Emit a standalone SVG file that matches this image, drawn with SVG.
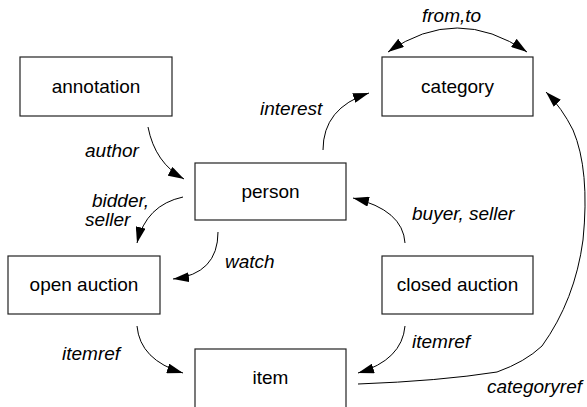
<svg xmlns="http://www.w3.org/2000/svg" width="587" height="407" viewBox="0 0 587 407">
<style>
.box{fill:#fff;stroke:#222;stroke-width:1.2}
.nl{font-family:"Liberation Sans",Arial,sans-serif;font-size:19px;fill:#000;text-anchor:middle}
.el{font-family:"Liberation Sans",Arial,sans-serif;font-size:19px;font-style:italic;fill:#000}
.c{fill:none;stroke:#000;stroke-width:1}
</style>
<defs>
<marker id="ah" markerUnits="userSpaceOnUse" markerWidth="17" markerHeight="10" refX="16" refY="5" orient="auto-start-reverse" viewBox="0 0 17 10">
<path d="M0,0 L16,5 L0,10 z" fill="#000"/>
</marker>
</defs>
<rect width="587" height="407" fill="#fff"/>
<g id="annotation"><rect class="box" x="20" y="57" width="152" height="59"/><text class="nl" x="96" y="93">annotation</text></g>
<g id="category"><rect class="box" x="382" y="57" width="151" height="59"/><text class="nl" x="457.5" y="93">category</text></g>
<g id="person"><rect class="box" x="195" y="163" width="151" height="57"/><text class="nl" x="270.5" y="198">person</text></g>
<g id="open_auction"><rect class="box" x="8" y="256" width="152" height="58"/><text class="nl" x="84" y="291">open auction</text></g>
<g id="closed_auction"><rect class="box" x="382" y="256" width="151" height="58"/><text class="nl" x="457.5" y="291">closed auction</text></g>
<g id="item"><rect class="box" x="195" y="349" width="151" height="70"/><text class="nl" x="270.5" y="384">item</text></g>
<g id="connectors">
<path class="c" d="M148,127 Q155,163 184,179" marker-end="url(#ah)"/>
<path class="c" d="M323,150 Q323,108 369,93" marker-end="url(#ah)"/>
<path class="c" d="M388,52 Q457,4 527,52" marker-start="url(#ah)" marker-end="url(#ah)"/>
<path class="c" d="M358,384 Q440,381 497,372 Q525,362 542,346 Q575,300 583,240 Q590,170 573,130 Q562,108 546,92" marker-end="url(#ah)"/>
<path class="c" d="M405,243 Q403,210 353,198" marker-end="url(#ah)"/>
<path class="c" d="M183,197 Q146,205 137,243" marker-end="url(#ah)"/>
<path class="c" d="M218,232 Q218,274 173,279" marker-end="url(#ah)"/>
<path class="c" d="M405,326 Q402,360 358,373" marker-end="url(#ah)"/>
<path class="c" d="M137,326 Q140,360 183,373" marker-end="url(#ah)"/>
<text class="el" x="422" y="22">from,to</text>
<text class="el" x="260" y="115">interest</text>
<text class="el" x="85" y="157">author</text>
<text class="el" x="92" y="207">bidder,</text>
<text class="el" x="85" y="226">seller</text>
<text class="el" x="225" y="268">watch</text>
<text class="el" x="412" y="220">buyer, seller</text>
<text class="el" x="412" y="348">itemref</text>
<text class="el" x="62" y="360">itemref</text>
<text class="el" x="487" y="393">categoryref</text>
</g>
</svg>
